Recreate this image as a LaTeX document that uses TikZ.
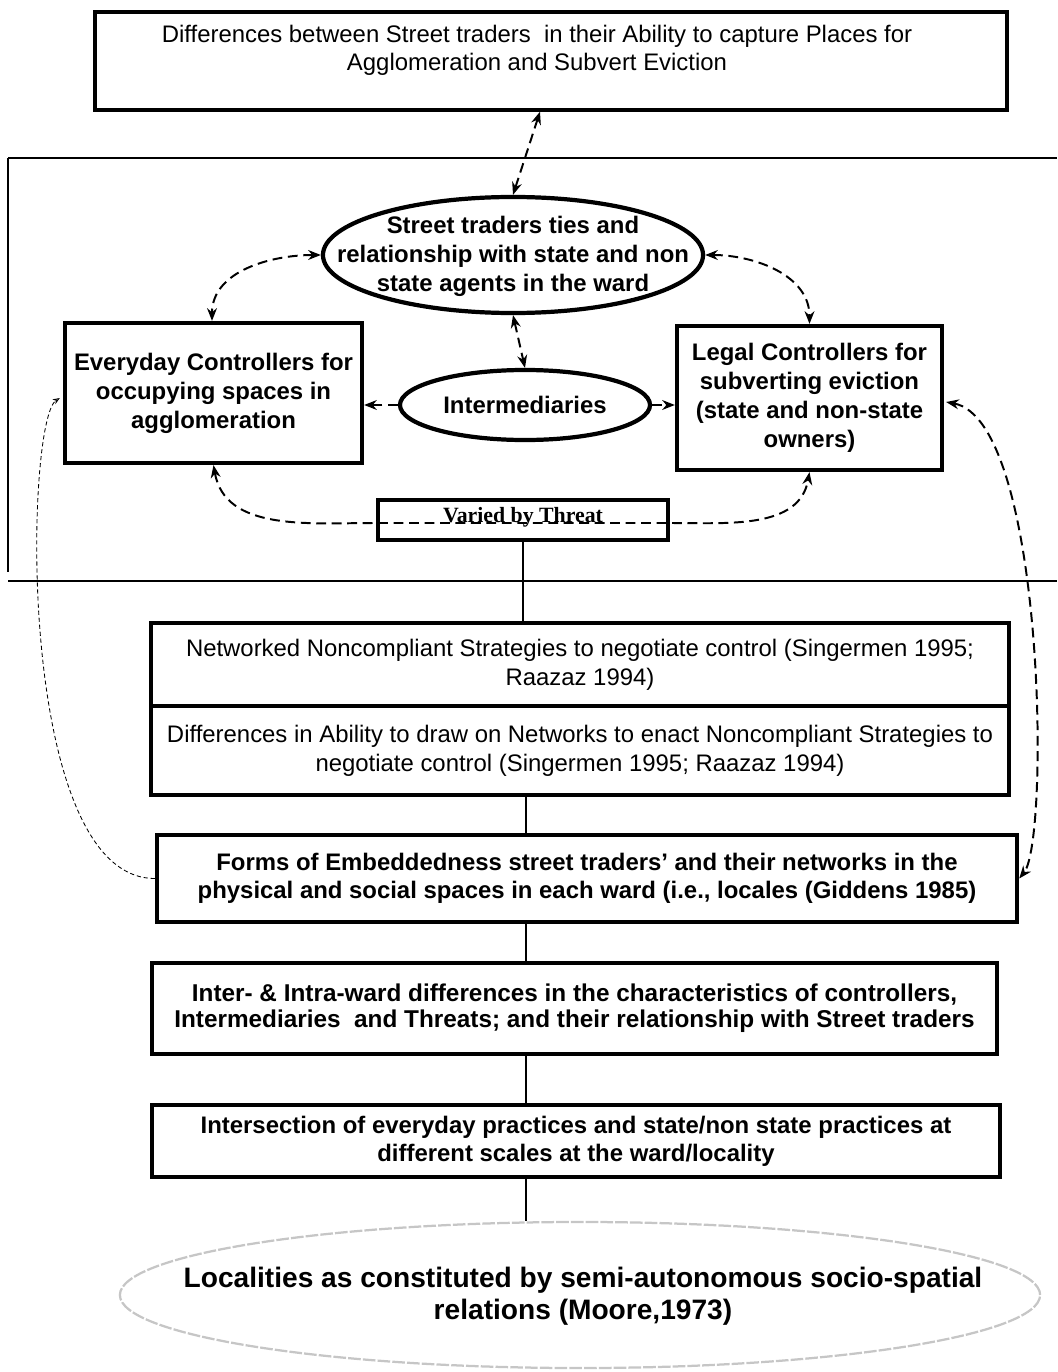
\documentclass[tikz,border=0pt]{standalone}
\usepackage{fontspec}
\setmainfont{Liberation Sans}
\newfontfamily\threatfont{Liberation Serif}
\usetikzlibrary{arrows.meta,shapes.geometric,calc}

\tikzset{
	box/.style={draw, line width=3pt, align=center, inner sep=0pt},
	oval/.style={draw, ellipse, line width=3pt, inner sep=0pt, align=center},
	txt/.style={align=center, inner sep=0pt},
	tip/.tip={Stealth[length=9pt,width=7pt]},
	darr/.style={line width=1.4pt, dash pattern=on 7pt off 4pt},
	thinarr/.style={line width=0.6pt, dash pattern=on 3pt off 2pt},
	frame/.style={line width=1.2pt},
	link/.style={line width=1.8pt},
	upper/.style={font=\fontsize{17}{20.6}\selectfont\bfseries},
	plain/.style={font=\fontsize{17}{20.6}\selectfont},
	lower/.style={font=\fontsize{17}{20}\selectfont\bfseries}
}

\begin{document}
\begin{tikzpicture}[x=0.025cm, y=-0.025cm]
	
	\useasboundingbox (0,0) rectangle (1057,1372);
	
	% top box
	\node (top) [box, line width=2.4pt, minimum width=22.8cm, minimum height=2.45cm] at (551,61) {};
	\node (toptxt) [txt, font=\fontsize{17}{20}\selectfont] at (537,50) {Differences between Street traders\ \ in their Ability to capture Places for\\ Agglomeration and Subvert Eviction};
	
	% frame round the ward level
	\draw[frame] (8,158) -- (1057,158);
	\draw[frame] (8,158) -- (8,572);
	\draw[frame] (8,581) -- (1057,581);
	
	\node (stel) [oval, minimum width=9.5cm, minimum height=2.9cm] at (513,255) {};
	\node (steltxt) [txt, upper] at (513,256) {Street traders ties and\\ relationship with state and non\\ state agents in the ward};
	
	\node (every) [box, upper, minimum width=7.425cm, minimum height=3.5cm] at (213.5,393) {Everyday Controllers for\\ occupying spaces in\\ agglomeration};
	
	\node (legal) [box, upper, minimum width=6.625cm, minimum height=3.6cm] at (809.5,398) {Legal Controllers for\\ subverting eviction\\ (state and non-state\\ owners)};
	
	\node (inter) [oval, upper, minimum width=6.25cm, minimum height=1.75cm] at (525,405) {Intermediaries};
	
	\node (varied) [box, minimum width=7.25cm, minimum height=1cm] at (523,520) {};
	\node (variedtxt) [txt, font=\fontsize{15.5}{17}\selectfont\threatfont\bfseries] at (523,517) {Varied by Threat};
	
	% lower chain
	\node (net) [box, plain, minimum width=21.45cm, minimum height=2.075cm] at (580,664.5) {Networked Noncompliant Strategies to negotiate control (Singermen 1995;\\ Raazaz 1994)};
	\node (diff) [box, plain, minimum width=21.45cm, minimum height=2.225cm] at (580,750.5) {Differences in Ability to draw on Networks to enact Noncompliant Strategies to\\ negotiate control (Singermen 1995; Raazaz 1994)};
	
	\node (forms) [box, lower, minimum width=21.5cm, minimum height=2.175cm] at (587,878.5) {Forms of Embeddedness street traders' and their networks in the\\ physical and social spaces in each ward (i.e., locales (Giddens 1985)};
	
	\node (wards) [box, lower, minimum width=21.125cm, minimum height=2.275cm, font=\fontsize{17.3}{18.5}\selectfont\bfseries] at (574.5,1008.5) {Inter- \& Intra-ward differences in the characteristics of controllers,\\ Intermediaries\ \ and Threats; and their relationship with Street traders};
	
	\node (isect) [box, lower, minimum width=21.2cm, minimum height=1.8cm] at (576,1141) {Intersection of everyday practices and state/non state practices at\\ different scales at the ward/locality};
	
	\node (local) [oval, draw=gray!45, line width=1.6pt, dash pattern=on 9pt off 1.5pt, minimum width=23cm, minimum height=3.65cm] at (580,1295) {};
	\node (localtxt) [txt, font=\fontsize{20}{22.8}\selectfont\bfseries] at (583,1296) {Localities as constituted by semi-autonomous socio-spatial\\ relations (Moore,1973)};
	
	\coordinate (spine) at (526,0);
	
	% dashed ties
	\draw[darr, tip-tip] ($(top.south)+(-11,0)$) -- (stel.north);
	\draw[darr, tip-tip] (stel.west) to[out=180, in=90] (every.north -| 212,0);
	\draw[darr, tip-tip] (stel.east) to[out=0, in=90] (legal.north);
	\draw[darr, tip-tip] (stel.south) -- (inter.north);
	\draw[darr, -tip] (inter.west) -- (inter.west -| every.east);
	\draw[darr, -tip] (inter.east) -- (inter.east -| legal.west);
	\draw[darr, tip-tip] (every.south) to[out=-80, in=180] ($(varied.west)+(0,3)$) -- ($(varied.east)+(0,3)$) to[out=0, in=-100] (legal.south);
	
	\draw[thinarr, -{Stealth[length=5pt,width=4pt,open]}] (forms.west) .. controls (15,878) and (25,420) .. ($(every.west)+(-3,5)$);
	\draw[darr, tip-tip] ($(legal.east)+(2,4)$) .. controls (1045,420) and (1050,840) .. (forms.east);
	
	% solid links
	\draw[link] (varied.south) -- (varied.south |- net.north);
	\draw[link] (diff.south -| spine) -- (forms.north -| spine);
	\draw[link] (forms.south -| spine) -- (wards.north -| spine);
	\draw[link] (wards.south -| spine) -- (isect.north -| spine);
	\draw[link] (isect.south -| spine) -- (local.north -| spine);
	
\end{tikzpicture}
\end{document}
